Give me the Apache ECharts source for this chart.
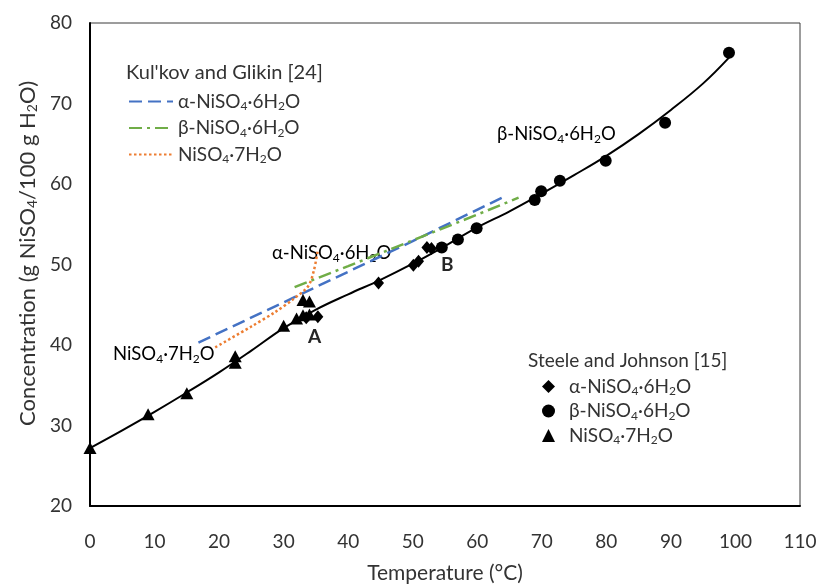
<!DOCTYPE html>
<html>
<head>
<meta charset="utf-8">
<title>NiSO4 solubility</title>
<script src="https://cdn.jsdelivr.net/npm/echarts@6.0.0/dist/echarts.min.js"></script>
<style>
  html, body { margin: 0; padding: 0; background: #fff; }
  #chart { width: 818px; height: 585px; }
</style>
</head>
<body>
<div id="chart"></div>
<script>
// fitted solubility curve (black line)
const curveT = [0, 5, 10, 15, 20, 25, 30, 35, 40, 45, 50, 55, 60, 65, 70, 75, 80, 85, 90, 95, 99]
const curveC = [27.2, 29.4, 31.7, 34.1, 36.6, 39.3, 42.1, 44.4, 46.3, 48.1, 50.1, 52.3, 54.6, 56.6, 58.8, 61.1, 63.5, 66.2, 69.2, 72.5, 75.7]

// Kul'kov and Glikin [24]
const kulAlphaT = [16.8, 30, 40, 50, 64.6]
const kulAlphaC = [40.3, 45.3, 49.1, 52.9, 58.6]
const kulBetaT = [31.7, 40, 50, 60, 66.4]
const kulBetaC = [47.2, 49.8, 53.0, 56.2, 58.3]
const kulHeptaT = [19.4, 25, 28.7, 31.5, 33.8, 34.7, 35.3]
const kulHeptaC = [39.7, 42.3, 44.1, 45.7, 47.3, 49.3, 51.8]

// Steele and Johnson [15]
const steAlphaT = [33.5, 35.3, 44.7, 50.1, 50.9, 52.2, 52.9]
const steAlphaC = [43.4, 43.5, 47.7, 49.9, 50.4, 52.1, 52.0]
const steBetaT = [54.5, 57.0, 59.9, 68.9, 69.9, 72.8, 79.9, 89.1, 99.0]
const steBetaC = [52.1, 53.1, 54.5, 58.0, 59.1, 60.4, 62.9, 67.6, 76.3]
const steHeptaT = [0, 9, 15, 22.5, 22.5, 30, 32, 33, 34, 33, 34]
const steHeptaC = [27.2, 31.4, 34.0, 38.6, 37.8, 42.4, 43.3, 43.7, 43.8, 45.6, 45.4]

const xTicks = [0, 110, 10]   // min, max, interval
const yTicks = [20, 80, 10]

const FONT = 'Lato'
const TXT = '#333'

// "NiSO_4·6H_2O" -> rich text with subscripts
function chem(s) {
  return s.split(/_(\d)/).map((p, i) => (i % 2 ? '{s|' + p + '}' : (p ? '{n|' + p + '}' : ''))).join('')
}
function richStyle(size) {
  return {
    n: { fontFamily: FONT, fontSize: size, color: TXT, lineHeight: 22, verticalAlign: 'middle' },
    s: { fontFamily: FONT, fontSize: Math.round(size * 0.65), color: TXT, lineHeight: 12, verticalAlign: 'bottom' },
    gap: { width: 9 }
  }
}

const zip = (a, b) => a.map((v, i) => [v, b[i]])

const legendNames = {
  ka: "α-NiSO_4·6H_2O", kb: "β-NiSO_4·6H_2O", k7: "NiSO_4·7H_2O",
  sa: "α-NiSO_4·6H_2O", sb: "β-NiSO_4·6H_2O", s7: "NiSO_4·7H_2O"
}

const chart = echarts.init(document.getElementById('chart'))

const option = {
  animation: false,
  textStyle: { fontFamily: FONT },
  grid: {
    left: 90, right: 18, top: 23, bottom: 79, outerBoundsMode: 'none',
    show: true, borderColor: '#3a3a3a', borderWidth: 1
  },
  xAxis: {
    type: 'value', min: xTicks[0], max: xTicks[1], interval: xTicks[2],
    axisLine: { onZero: false, lineStyle: { color: '#000', width: 2 } },
    axisTick: { show: false },
    splitLine: { show: false },
    axisLabel: { color: TXT, fontSize: 19, margin: 26, fontFamily: FONT },
    name: 'Temperature (°C)', nameLocation: 'middle', nameGap: 57,
    nameTextStyle: { color: TXT, fontSize: 21, fontFamily: FONT }
  },
  yAxis: {
    type: 'value', min: yTicks[0], max: yTicks[1], interval: yTicks[2],
    axisLine: { onZero: false, lineStyle: { color: '#000', width: 2 } },
    axisTick: { show: false },
    splitLine: { show: false },
    axisLabel: { color: TXT, fontSize: 19, margin: 18, fontFamily: FONT },
    name: '{n|Concentration (g NiSO}{s|4}{n|/100 g H}{s|2}{n|O)}',
    nameLocation: 'middle', nameGap: 51,
    nameTextStyle: { rich: richStyle(22), padding: [0, 0, 0, 22] }
  },
  legend: [
    {
      data: ['ka', 'kb', 'k7'], orient: 'vertical', left: 128, top: 92, padding: 0,
      itemWidth: 44, itemHeight: 14, itemGap: 6, selectedMode: false,
      itemStyle: { opacity: 0 },
      formatter: n => chem(legendNames[n]),
      textStyle: { rich: richStyle(19) }
    },
    {
      data: ['sa', 'sb', 's7'], orient: 'vertical', left: 542, top: 377, padding: 0,
      itemWidth: 13, itemHeight: 13, itemGap: 4, selectedMode: false,
      formatter: n => '{gap|}' + chem(legendNames[n]),
      textStyle: { rich: richStyle(19) }
    }
  ],
  graphic: [
    { type: 'text', left: 126, top: 63, style: { text: "Kul'kov and Glikin [24]", font: '20px Lato', fill: TXT } },
    { type: 'text', left: 528, top: 351, style: { text: 'Steele and Johnson [15]', font: '19px Lato', fill: TXT } },
    { type: 'text', left: 272, top: 244, style: { text: chem('α-NiSO_4·6H_2O'), rich: richStyle(18.5) } },
    { type: 'text', left: 497, top: 125, style: { text: chem('β-NiSO_4·6H_2O'), rich: richStyle(18.5) } },
    { type: 'text', left: 113, top: 345, style: { text: chem('NiSO_4·7H_2O'), rich: richStyle(18.5) } },
    { type: 'text', left: 308, top: 327, style: { text: 'A', font: 'bold 19px Lato', fill: '#262626' } },
    { type: 'text', left: 441, top: 255, style: { text: 'B', font: 'bold 19px Lato', fill: '#262626' } }
  ],
  series: [
    {
      name: 'curve', type: 'line', data: zip(curveT, curveC), smooth: 0.4,
      showSymbol: false, lineStyle: { color: '#000', width: 2 }, z: 2, silent: true
    },
    {
      name: 'ka', type: 'line', data: zip(kulAlphaT, kulAlphaC), showSymbol: false, symbol: 'none',
      itemStyle: { color: '#4472C4' },
      lineStyle: { color: '#4472C4', width: 2.5, type: [13, 6] }, z: 3
    },
    {
      name: 'kb', type: 'line', data: zip(kulBetaT, kulBetaC), showSymbol: false, symbol: 'none',
      itemStyle: { color: '#70AD47' },
      lineStyle: { color: '#70AD47', width: 2.5, type: [13, 5, 3, 5] }, z: 3
    },
    {
      name: 'k7', type: 'line', data: zip(kulHeptaT, kulHeptaC), showSymbol: false, symbol: 'none', smooth: 0.3,
      itemStyle: { color: '#ED7D31' },
      lineStyle: { color: '#ED7D31', width: 2.5, type: [2.5, 2.5] }, z: 3
    },
    {
      name: 'sa', type: 'scatter', data: zip(steAlphaT, steAlphaC), symbol: 'diamond', symbolSize: [11, 13],
      itemStyle: { color: '#000', opacity: 1 }, z: 4
    },
    {
      name: 'sb', type: 'scatter', data: zip(steBetaT, steBetaC), symbol: 'circle', symbolSize: 12,
      itemStyle: { color: '#000', opacity: 1 }, z: 4
    },
    {
      name: 's7', type: 'scatter', data: zip(steHeptaT, steHeptaC), symbol: 'triangle', symbolSize: [13, 12],
      itemStyle: { color: '#000', opacity: 1 }, z: 4
    }
  ]
}

chart.setOption(option)
window.addEventListener('resize', () => { chart && chart.resize() })
</script>
</body>
</html>
